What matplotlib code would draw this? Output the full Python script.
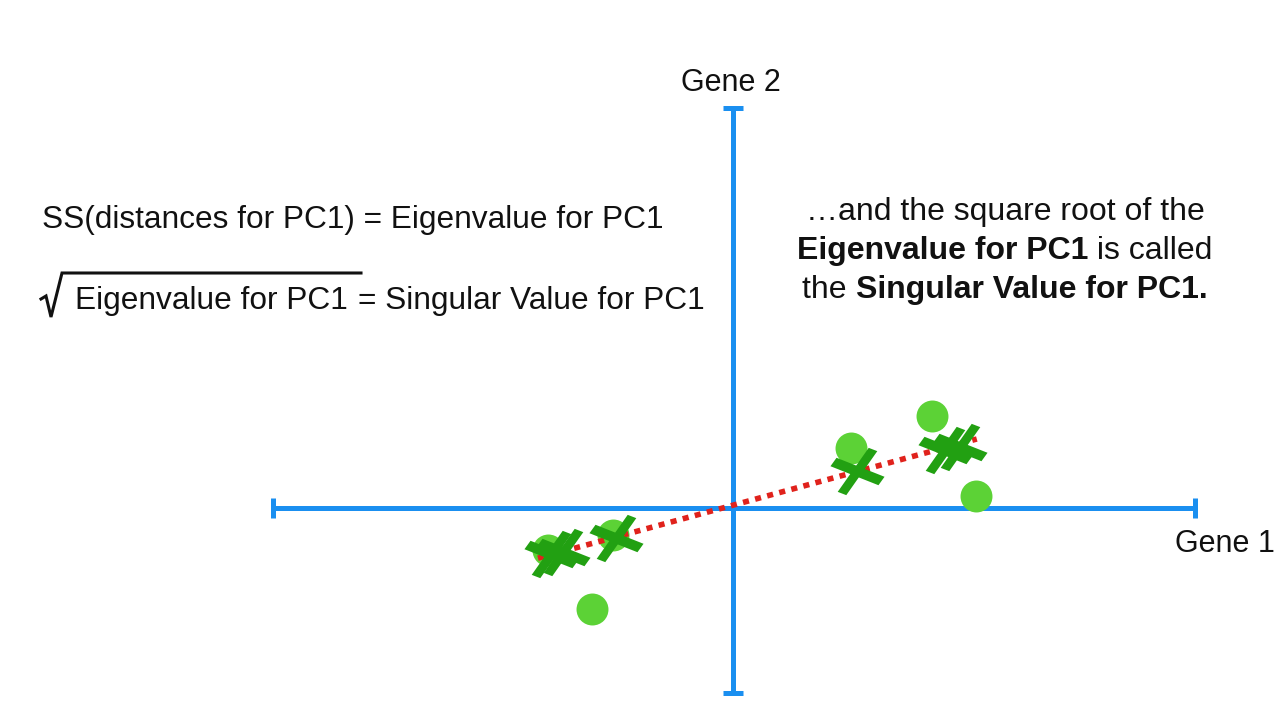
import matplotlib
matplotlib.use("Agg")
import matplotlib.pyplot as plt
import numpy as np
from matplotlib.path import Path
from matplotlib.markers import MarkerStyle
from matplotlib.lines import Line2D

# ---------------- data (gene units; origin at the axes crossing) ----------------
gene1_axis = [-10.0, 10.05]
gene2_axis = [-4.02, 8.70]

circle_x = [-4.02, -2.61, -3.07, 2.57, 4.33, 5.28]
circle_y = [-0.91, -0.59, -2.20, 1.30, 2.00, 0.26]

proj_x = [-3.96, -3.70, -2.54, 2.70, 4.60, 4.93]
proj_y = [-1.00, -0.95, -0.65, 0.80, 1.25, 1.33]

pc1_x = [-4.24, 5.30]
pc1_y = [-1.09, 1.50]

label_gene1 = "Gene 1"
label_gene2 = "Gene 2"
eq1 = "SS(distances for PC1) = Eigenvalue for PC1"
eq2_inner = "Eigenvalue for PC1"
eq2_rest = "= Singular Value for PC1"
note_lines = [
    [("\u2026and the square root of the", False)],
    [("Eigenvalue for PC1", True), (" is called", False)],
    [("the ", False), ("Singular Value for PC1.", True)],
]

# ---------------- colours ----------------
BLUE = "#1a8ff0"
LIGHT_GREEN = "#5cd236"
DARK_GREEN = "#22a012"
RED = "#e0221c"
TXT = "#111111"
FONT = "Liberation Sans"

W, H = 1280, 720
SCALE = 46.0  # pixels per unit
OX, OY = 733, 508

fig = plt.figure(figsize=(12.8, 7.2), dpi=100)
ax = fig.add_axes([0, 0, 1, 1])
ax.set_xlim(-OX / SCALE, (W - OX) / SCALE)
ax.set_ylim(-(H - OY) / SCALE, OY / SCALE)
ax.axis("off")

# axes
ax.plot(gene1_axis, [0, 0], color=BLUE, lw=3.6, solid_capstyle="butt", zorder=1)
ax.plot(gene1_axis, [0, 0], ls="none", marker="|", ms=15, mew=3.6, color=BLUE, zorder=1)
ax.plot([0, 0], gene2_axis, color=BLUE, lw=3.6, solid_capstyle="butt", zorder=1)
ax.plot([0, 0], gene2_axis, ls="none", marker="_", ms=15, mew=3.6, color=BLUE, zorder=1)

# data points
ax.plot(circle_x, circle_y, ls="none", marker="o", ms=23, mew=0,
        color=LIGHT_GREEN, zorder=2)

# PC1 line
ax.plot(pc1_x, pc1_y, color=RED, lw=4.0, ls=(0, (1.1, 1.15)),
        dash_capstyle="butt", zorder=3)

# projected points: thick asymmetric crosses, each bar a parallelogram (pixel units)
def bar_marker(p0, p1, cut_dir, half):
    p0, p1 = np.array(p0, float), np.array(p1, float)
    d = np.array(cut_dir, float)
    d = d / np.hypot(*d) * half
    verts = [p0 - d, p1 - d, p1 + d, p0 + d, p0 - d]
    codes = [Path.MOVETO, Path.LINETO, Path.LINETO, Path.LINETO, Path.CLOSEPOLY]
    path = Path(verts, codes)
    extent = np.abs(np.array(verts)).max()
    return MarkerStyle(path), 2 * extent * 0.72

shallow = bar_marker((-24, 9.5), (24, -9.5), (31, 43), 5.2)
steep = bar_marker((-15.5, -22), (15.5, 22), (44, -17), 4.6)
for mk, ms in (shallow, steep):
    ax.plot(proj_x, proj_y, ls="none", marker=mk, ms=ms, mew=0,
            markerfacecolor=DARK_GREEN, zorder=4)

# axis labels
def fy(py):
    return 1 - py / H

fig.text(731 / W, fy(91), label_gene2, fontsize=22, family=FONT, color=TXT,
         ha="center", va="baseline")
fig.text(1175 / W, fy(552), label_gene1, fontsize=22, family=FONT, color=TXT,
         ha="left", va="baseline")

# left equations
fig.text(42 / W, fy(228), eq1, fontsize=22.8, family=FONT, color=TXT,
         ha="left", va="baseline")
fig.text(75 / W, fy(309), eq2_inner, fontsize=22.8, family=FONT, color=TXT,
         ha="left", va="baseline")
fig.text(358 / W, fy(309), eq2_rest, fontsize=22.8, family=FONT, color=TXT,
         ha="left", va="baseline")
rad_x = [41, 46, 51, 62, 361]
rad_y = [299, 296, 317, 273, 273]
fig.add_artist(Line2D([x / W for x in rad_x], [fy(y) for y in rad_y],
                      transform=fig.transFigure, color=TXT, lw=2.2,
                      solid_joinstyle="miter"))

# right note with mixed weight
renderer = fig.canvas.get_renderer()
note_cx = 1005
note_base = [220, 259, 298]
note_size = 23
for parts, base in zip(note_lines, note_base):
    texts = []
    for s, bold in parts:
        t = fig.text(0, fy(base), s.replace(" ", "\u00a0"), fontsize=note_size,
                     family=FONT, color=TXT,
                     fontweight="bold" if bold else "normal",
                     ha="left", va="baseline")
        texts.append(t)
    widths = [t.get_window_extent(renderer).width for t in texts]
    x = note_cx - sum(widths) / 2
    for t, w in zip(texts, widths):
        t.set_x(x / W)
        x += w

fig.savefig("out.png", dpi=100)
